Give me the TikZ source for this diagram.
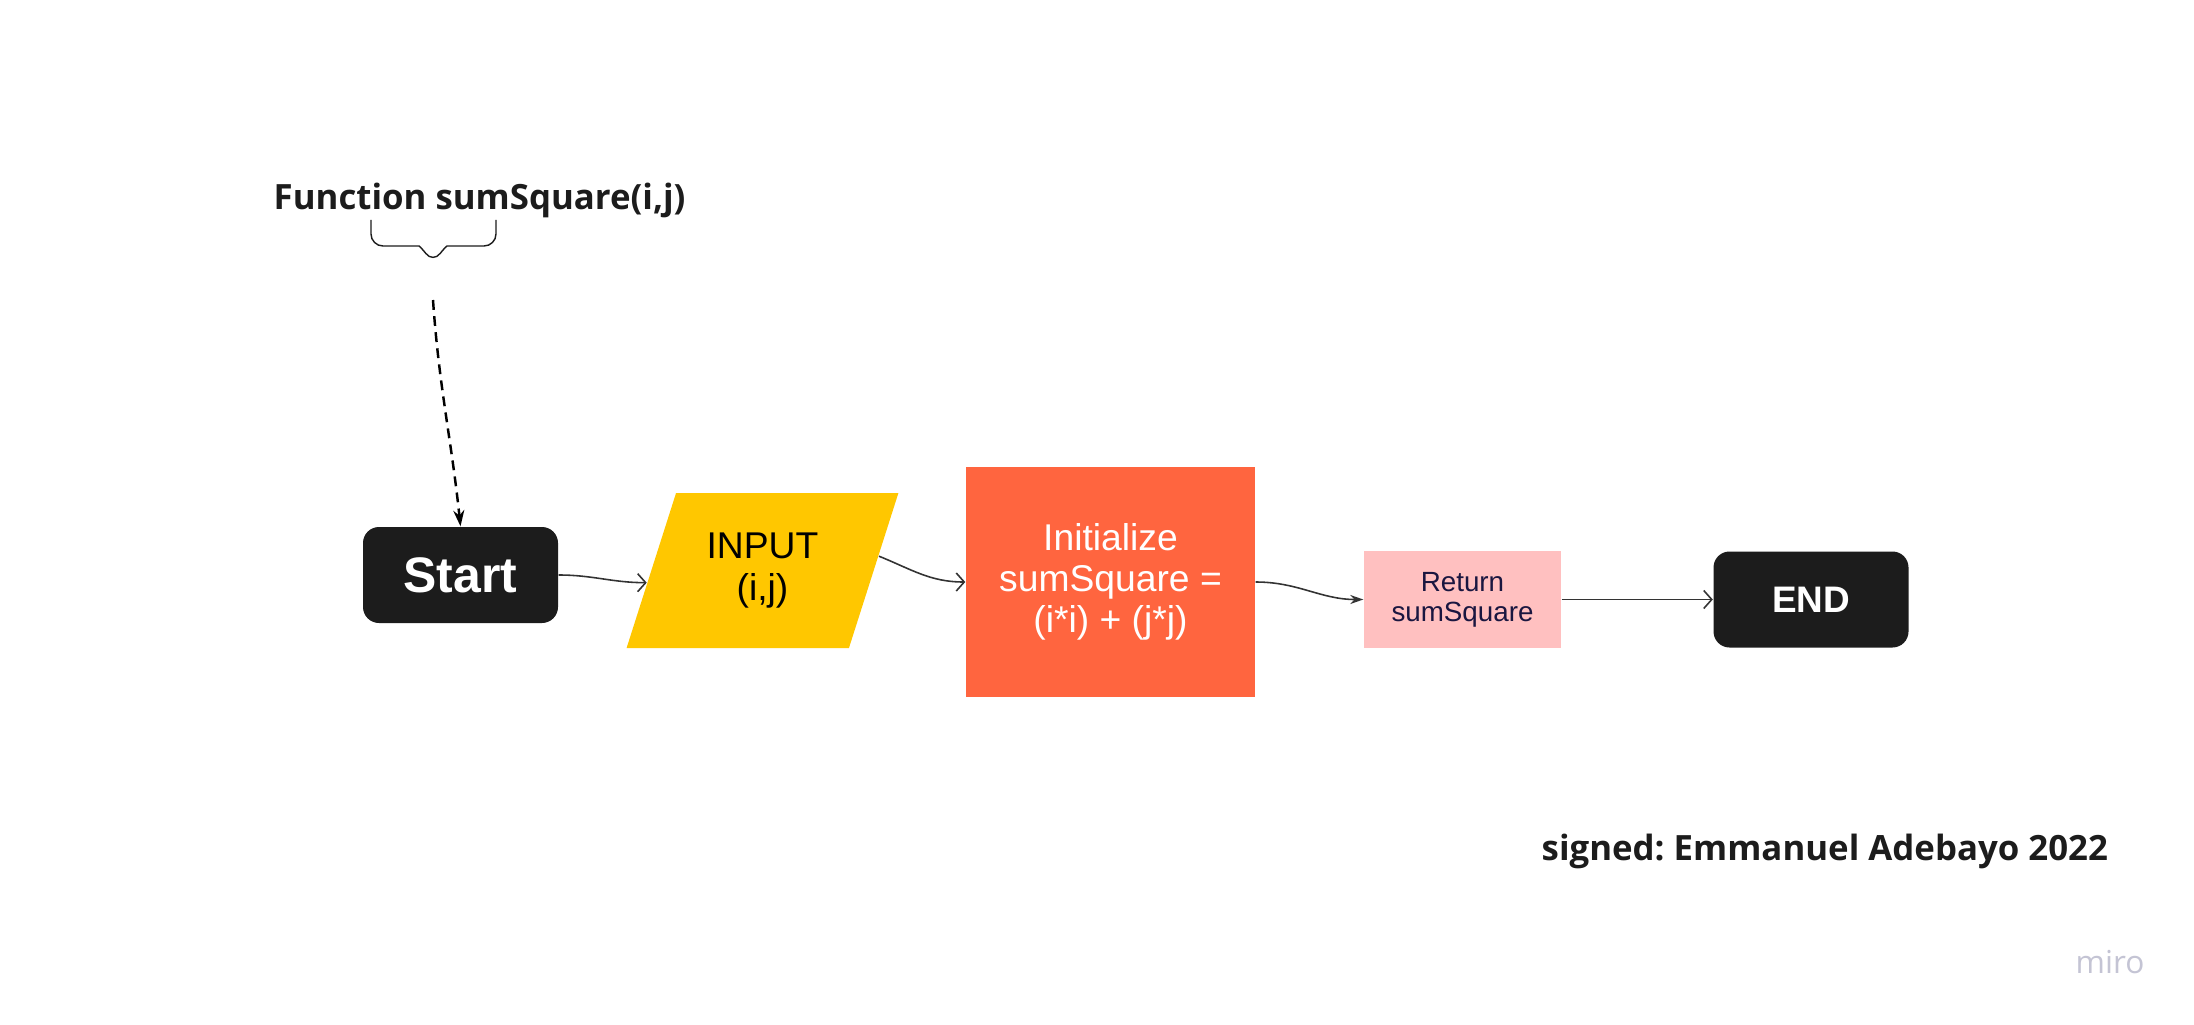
\documentclass[tikz,border=0pt]{standalone}
\usepackage{fontspec}
\setmainfont{Liberation Sans}
\newfontfamily\opensans{Open Sans}
\usepackage{xcolor}
\usepackage{tikz}
\usetikzlibrary{arrows.meta,shapes.geometric}
\definecolor{termfill}{HTML}{1C1C1C}
\definecolor{ioyellow}{HTML}{FFC700}
\definecolor{procorange}{HTML}{FF653F}
\definecolor{retpink}{HTML}{FFC0C0}
\definecolor{retink}{HTML}{1A1640}
\definecolor{linegray}{HTML}{333333}
\definecolor{mirogray}{HTML}{C4C4D4}
\tikzset{
  terminal/.style ={rectangle,rounded corners=1.6mm,fill=termfill,text=white,minimum width=1.95cm,minimum height=0.96cm,inner sep=0pt,font=\bfseries\fontsize{14.2}{16}\selectfont},
  endterm/.style  ={terminal,font=\bfseries\fontsize{10.5}{12}\selectfont},
  io/.style       ={trapezium,trapezium left angle=67.25,trapezium right angle=112.75,trapezium stretches=true,fill=ioyellow,minimum width=2.72cm,minimum height=1.55cm,inner sep=0pt,align=center,font=\fontsize{10.6}{12.2}\selectfont},
  process/.style  ={rectangle,fill=procorange,text=white,minimum width=2.89cm,minimum height=2.30cm,inner sep=0pt,align=center,font=\fontsize{10.6}{11.7}\selectfont},
  retbox/.style   ={rectangle,fill=retpink,text=retink,minimum width=1.97cm,minimum height=0.97cm,inner sep=0pt,align=center,font=\fontsize{7.9}{8.6}\selectfont},
  heading/.style  ={inner sep=0pt,text=termfill,font=\opensans\bfseries\fontsize{9.9}{12}\selectfont\frenchspacing},
  flow/.style     ={draw=linegray,line width=0.45pt,-{Straight Barb[length=0.8mm,width=1.8mm]}},
  solidflow/.style={draw=linegray,line width=0.45pt,-{Stealth[length=1.3mm,width=0.9mm]}},
  callflow/.style ={draw=black,line width=0.7pt,dash pattern=on 2.8pt off 1.8pt,-{Stealth[length=1.6mm,width=1.1mm]}},
  bracepen/.style ={draw=termfill,line width=0.4pt,rounded corners=1.2mm},
}
\begin{document}
\begin{tikzpicture}
  \useasboundingbox[fill=white] (0,0) rectangle (21.94,-10.25);
  \node[heading,anchor=base west] (title) at (2.73,-2.09) {Function sumSquare(i,j)};
  \draw[bracepen] (3.71,-2.20) -- (3.71,-2.46) -- (4.07,-2.46)
    .. controls (4.20,-2.46) and (4.27,-2.55) .. (4.33,-2.63)
    .. controls (4.39,-2.55) and (4.46,-2.46) .. (4.59,-2.46)
    -- (4.96,-2.46) -- (4.96,-2.20);
  \coordinate (calltail) at (4.33,-3.00);

  \node[terminal] (start) at (4.605,-5.75) {Start};
  \node[io] (inp) at (7.625,-5.705) {INPUT\\(i,j)};
  \node[process] (init) at (11.105,-5.82) {Initialize\\sumSquare =\\(i*i) + (j*j)};
  \node[retbox] (ret) at (14.625,-5.995) {Return\\sumSquare};
  \node[endterm] (finish) at (18.11,-5.995) {END};

  \draw[callflow] (calltail) to[out=-86,in=96] (start.north);
  \draw[flow] (start.east) to[out=0,in=180] (inp.186);
  \draw[flow] (inp.7) to[out=-22,in=180] (init.west);
  \draw[solidflow] (init.east) to[out=0,in=180] (ret.west);
  \draw[flow] (ret.east) -- (finish.west);

  \node[heading,anchor=base west] (signed) at (15.41,-8.60) {signed: Emmanuel Adebayo 2022};
  \node[anchor=base west,inner sep=0pt,text=mirogray,font=\opensans\fontsize{9}{10}\selectfont] (miro) at (20.75,-9.73) {miro};
\end{tikzpicture}
\end{document}
